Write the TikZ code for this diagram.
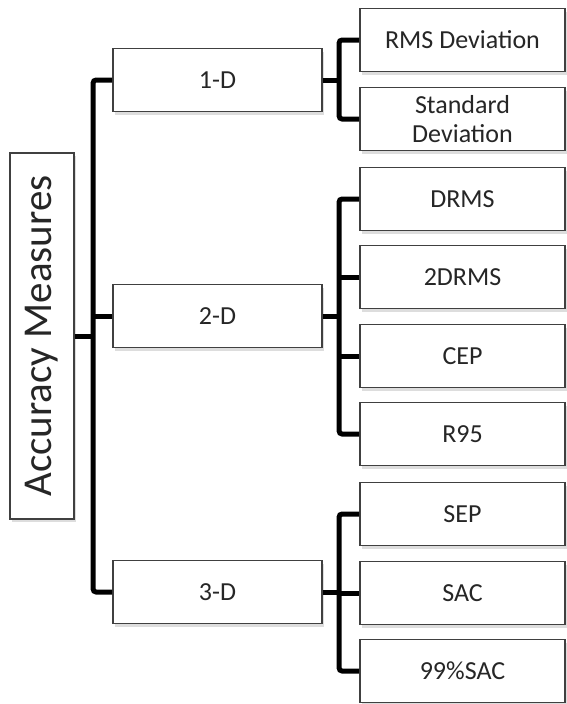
\documentclass[tikz,border=0pt]{standalone}
\usepackage{fontspec}
\setmainfont{Carlito}
\usetikzlibrary{shadows}
\tikzset{
  box/.style={draw=black!75, line width=1.8pt, fill=white, minimum width=205pt, minimum height=63pt,
    inner sep=2pt, align=center, font=\fontsize{26}{29}\selectfont, text=black!85,
    drop shadow={shadow xshift=2pt, shadow yshift=-3pt, opacity=0.22, fill=black!60}},
  midbox/.style={box, minimum width=209pt},
  rootbox/.style={box, minimum width=64pt, minimum height=366pt},
  roottext/.style={rotate=90, font=\fontsize{41}{44}\selectfont, text=black!85, inner sep=0pt},
  conn/.style={line width=5pt, black, rounded corners=3pt}
}
\begin{document}
\begin{tikzpicture}[x=1pt,y=-1pt]
\useasboundingbox[fill=white] (0,0) rectangle (567,704);
% root
\node[rootbox] (root) at (42,336) {};
\node[roottext] (roottxt) at (root.center) {Accuracy Measures};
% middle level
\node[midbox] (d1) at (217.5,80) {1-D};
\node[midbox] (d2) at (217.5,316) {2-D};
\node[midbox] (d3) at (217.5,592) {3-D};
% leaves
\node[box] (rms) at (462.5,40) {RMS Deviation};
\node[box] (std) at (462.5,119) {Standard\\Deviation};
\node[box] (drms) at (462.5,199) {DRMS};
\node[box] (drms2) at (462.5,277) {2DRMS};
\node[box] (cep) at (462.5,356) {CEP};
\node[box] (r95) at (462.5,434) {R95};
\node[box] (sep) at (462.5,514) {SEP};
\node[box] (sac) at (462.5,593) {SAC};
\node[box] (sac99) at (462.5,671) {99\%SAC};
% connectors: root level
\draw[conn] (d1.west) -- ++(-19,0) |- (d3.west);
\draw[conn, rounded corners=0pt] (root.east) -- (root.east -| 94,0);
\draw[conn, rounded corners=0pt] (d2.west) -- ++(-19,0);
% 1-D
\draw[conn] (rms.west) -- ++(-20,0) |- (std.west);
\draw[conn, rounded corners=0pt] (d1.east) -- ++(18,0);
% 2-D
\draw[conn] (drms.west) -- ++(-20,0) |- (r95.west);
\draw[conn, rounded corners=0pt] (drms2.west) -- ++(-20,0);
\draw[conn, rounded corners=0pt] (cep.west) -- ++(-20,0);
\draw[conn, rounded corners=0pt] (d2.east) -- ++(18,0);
% 3-D
\draw[conn] (sep.west) -- ++(-20,0) |- (sac99.west);
\draw[conn, rounded corners=0pt] (sac.west) -- ++(-20,0);
\draw[conn, rounded corners=0pt] (d3.east) -- ++(18,0);
\end{tikzpicture}
\end{document}
